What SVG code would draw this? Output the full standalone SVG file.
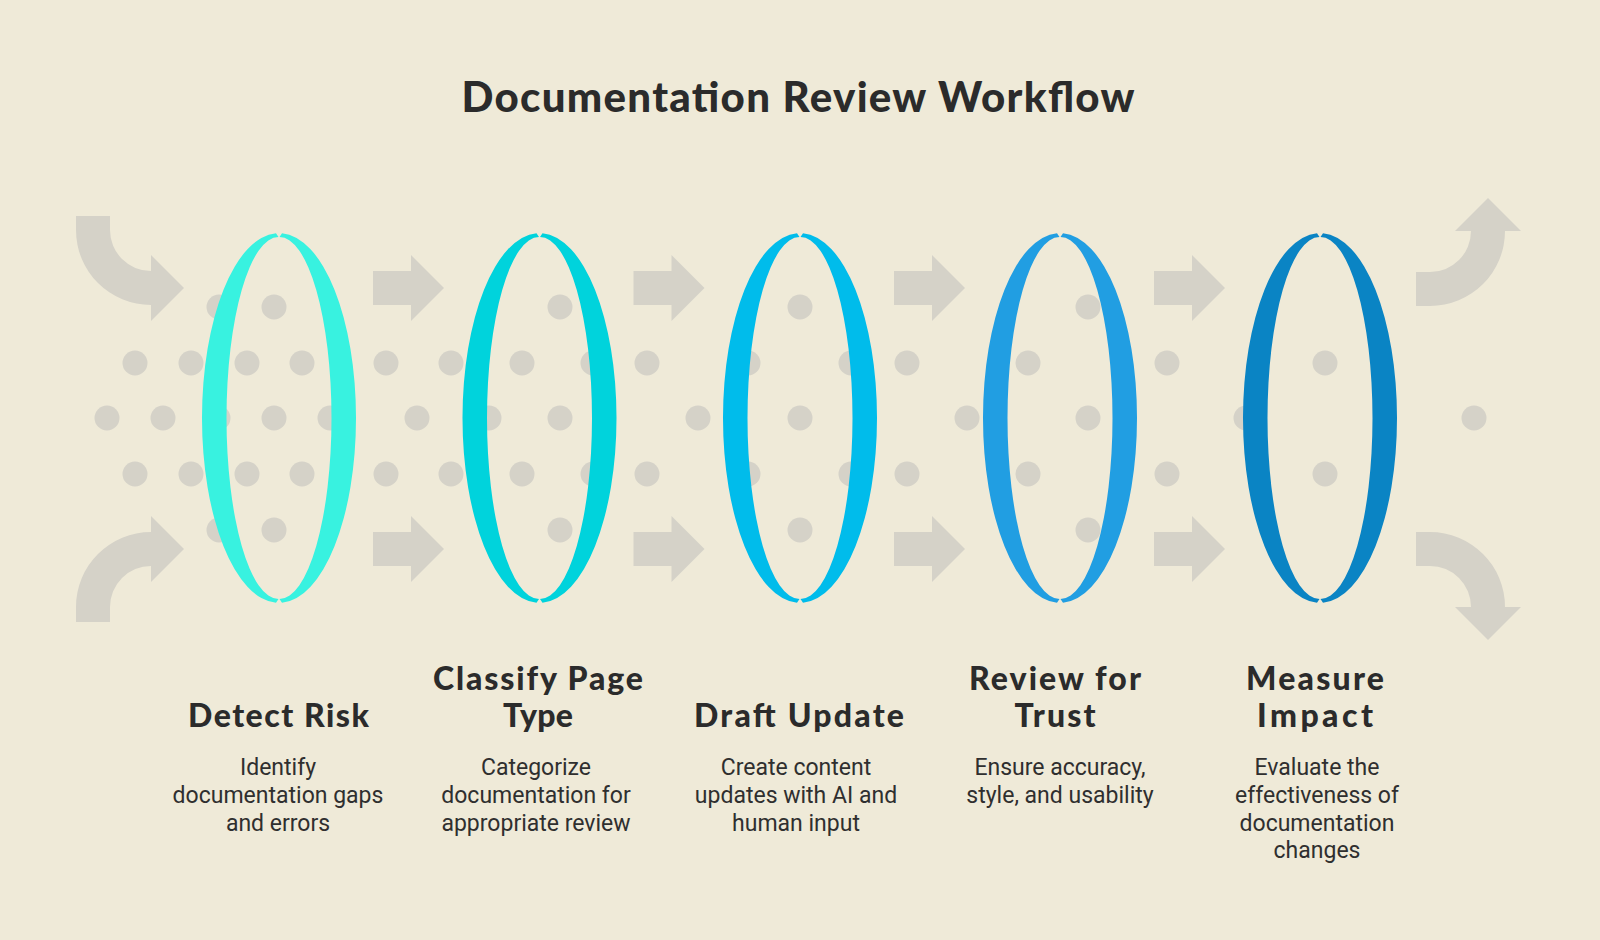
<svg xmlns="http://www.w3.org/2000/svg" width="1600" height="940" viewBox="0 0 1600 940">
<style>
.bg{fill:#EFEAD8}
.arw{fill:#D5D2C8}
.dot{fill:#D5D2C8}
.title{font-family:Lato,"Noto Sans","Liberation Sans",sans-serif;font-weight:900;font-size:42px;fill:#2B2B2B;text-anchor:middle}
.head{font-family:Lato,"Noto Sans","Liberation Sans",sans-serif;font-weight:900;font-size:32px;fill:#2B2B2B;text-anchor:middle}
.desc{font-family:Roboto,"Liberation Sans",sans-serif;font-size:23px;fill:#2F2F2F;text-anchor:middle}
</style>
<defs>
<g id="ringShape">
<path d="M -3,233.14 A 77 185 0 0 0 -3,602.86 L -0.5,599 A 52 181 0 0 1 -0.5,237 Z"/>
<path d="M 3,233.14 A 77 185 0 0 1 3,602.86 L 0.5,599 A 52 181 0 0 0 0.5,237 Z"/>
</g>
<path id="straightArrow" d="M 0,0 L 38,0 L 38,-16 L 71,17 L 38,50 L 38,34 L 0,34 Z"/>
</defs>
<rect class="bg" x="0" y="0" width="1600" height="940"/>
<text class="title" x="798" y="112" textLength="673" lengthAdjust="spacing">Documentation Review Workflow</text>

<g id="dots" class="dot">
<circle cx="219" cy="307" r="12.5"/><circle cx="274" cy="307" r="12.5"/><circle cx="560" cy="307" r="12.5"/><circle cx="800" cy="307" r="12.5"/><circle cx="1088" cy="307" r="12.5"/>
<circle cx="219" cy="530" r="12.5"/><circle cx="274" cy="530" r="12.5"/><circle cx="560" cy="530" r="12.5"/><circle cx="800" cy="530" r="12.5"/><circle cx="1088" cy="530" r="12.5"/>
<circle cx="135" cy="363" r="12.5"/><circle cx="191" cy="363" r="12.5"/><circle cx="247" cy="363" r="12.5"/><circle cx="302" cy="363" r="12.5"/><circle cx="386" cy="363" r="12.5"/><circle cx="451" cy="363" r="12.5"/><circle cx="522" cy="363" r="12.5"/><circle cx="593" cy="363" r="12.5"/><circle cx="647" cy="363" r="12.5"/><circle cx="748" cy="363" r="12.5"/><circle cx="851" cy="363" r="12.5"/><circle cx="907" cy="363" r="12.5"/><circle cx="1028" cy="363" r="12.5"/><circle cx="1167" cy="363" r="12.5"/><circle cx="1325" cy="363" r="12.5"/>
<circle cx="135" cy="474" r="12.5"/><circle cx="191" cy="474" r="12.5"/><circle cx="247" cy="474" r="12.5"/><circle cx="302" cy="474" r="12.5"/><circle cx="386" cy="474" r="12.5"/><circle cx="451" cy="474" r="12.5"/><circle cx="522" cy="474" r="12.5"/><circle cx="593" cy="474" r="12.5"/><circle cx="647" cy="474" r="12.5"/><circle cx="748" cy="474" r="12.5"/><circle cx="851" cy="474" r="12.5"/><circle cx="907" cy="474" r="12.5"/><circle cx="1028" cy="474" r="12.5"/><circle cx="1167" cy="474" r="12.5"/><circle cx="1325" cy="474" r="12.5"/>
<circle cx="107" cy="418" r="12.5"/><circle cx="163" cy="418" r="12.5"/><circle cx="218" cy="418" r="12.5"/><circle cx="274" cy="418" r="12.5"/><circle cx="330" cy="418" r="12.5"/><circle cx="417" cy="418" r="12.5"/><circle cx="489" cy="418" r="12.5"/><circle cx="560" cy="418" r="12.5"/><circle cx="698" cy="418" r="12.5"/><circle cx="800" cy="418" r="12.5"/><circle cx="967" cy="418" r="12.5"/><circle cx="1088" cy="418" r="12.5"/><circle cx="1246" cy="418" r="12.5"/><circle cx="1474" cy="418" r="12.5"/>
</g>

<g id="connectors" class="arw">
<path d="M 76,216 L 76,230 A 75 75 0 0 0 151,305 L 151,321 L 184,288 L 151,255 L 151,271 A 41 41 0 0 1 110,230 L 110,216 Z"/>
<path d="M 76,622 L 76,607 A 75 75 0 0 1 151,532 L 151,516 L 184,549 L 151,582 L 151,566 A 41 41 0 0 0 110,607 L 110,622 Z"/>
<use href="#straightArrow" x="373" y="271"/>
<use href="#straightArrow" x="373" y="532"/>
<use href="#straightArrow" x="633.5" y="271"/>
<use href="#straightArrow" x="633.5" y="532"/>
<use href="#straightArrow" x="894" y="271"/>
<use href="#straightArrow" x="894" y="532"/>
<use href="#straightArrow" x="1154" y="271"/>
<use href="#straightArrow" x="1154" y="532"/>
<path d="M 1416,306 L 1430,306 A 75 75 0 0 0 1505,231 L 1521,231 L 1488,198 L 1455,231 L 1471,231 A 41 41 0 0 1 1430,272 L 1416,272 Z"/>
<path d="M 1416,532 L 1430,532 A 75 75 0 0 1 1505,607 L 1521,607 L 1488,640 L 1455,607 L 1471,607 A 41 41 0 0 0 1430,566 L 1416,566 Z"/>
</g>

<g id="node-detect-risk">
<use href="#ringShape" x="279" y="0" fill="#38F2E0"/>
<text class="head" x="278.5" y="727" textLength="181" lengthAdjust="spacing">Detect Risk</text>
<text class="desc" x="278" y="775">Identify</text>
<text class="desc" x="278" y="803">documentation gaps</text>
<text class="desc" x="278" y="831">and errors</text>
</g>
<g id="node-classify-page-type">
<use href="#ringShape" x="539.5" y="0" fill="#00D3DC"/>
<text class="head" x="538" y="690" textLength="210" lengthAdjust="spacing">Classify Page</text>
<text class="head" x="538" y="727" textLength="70" lengthAdjust="spacing">Type</text>
<text class="desc" x="536" y="775">Categorize</text>
<text class="desc" x="536" y="803">documentation for</text>
<text class="desc" x="536" y="831">appropriate review</text>
</g>
<g id="node-draft-update">
<use href="#ringShape" x="800" y="0" fill="#00BCEB"/>
<text class="head" x="799" y="727" textLength="210" lengthAdjust="spacing">Draft Update</text>
<text class="desc" x="796" y="775">Create content</text>
<text class="desc" x="796" y="803">updates with AI and</text>
<text class="desc" x="796" y="831">human input</text>
</g>
<g id="node-review-for-trust">
<use href="#ringShape" x="1060" y="0" fill="#219EE2"/>
<text class="head" x="1055" y="690" textLength="172" lengthAdjust="spacing">Review for</text>
<text class="head" x="1055" y="727" textLength="81" lengthAdjust="spacing">Trust</text>
<text class="desc" x="1060" y="775">Ensure accuracy,</text>
<text class="desc" x="1060" y="803">style, and usability</text>
</g>
<g id="node-measure-impact">
<use href="#ringShape" x="1320" y="0" fill="#0A84C4"/>
<text class="head" x="1315" y="690" textLength="138" lengthAdjust="spacing">Measure</text>
<text class="head" x="1315" y="727" textLength="116" lengthAdjust="spacing">Impact</text>
<text class="desc" x="1317" y="775">Evaluate the</text>
<text class="desc" x="1317" y="803">effectiveness of</text>
<text class="desc" x="1317" y="831">documentation</text>
<text class="desc" x="1317" y="858">changes</text>
</g>
</svg>
